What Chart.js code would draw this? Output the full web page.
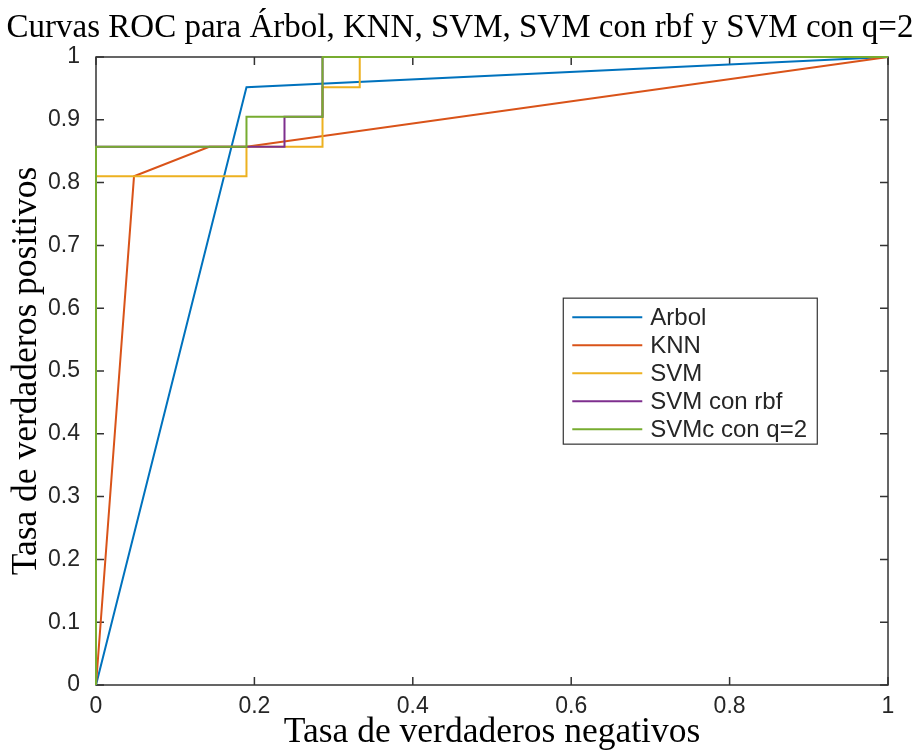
<!DOCTYPE html>
<html>
<head>
<meta charset="utf-8">
<script src="https://cdn.jsdelivr.net/npm/chart.js@4.4.1/dist/chart.umd.min.js"></script>
<style>
html,body{margin:0;padding:0;background:#fff;}
#wrap{width:920px;height:755px;position:relative;}
</style>
</head>
<body>
<div id="wrap"><canvas id="c" width="920" height="755"></canvas></div>
<script>
// ---- data ----
const titleText = "Curvas ROC para Árbol, KNN, SVM, SVM con rbf y SVM con q=2";
const xTitle = "Tasa de verdaderos negativos";
const yTitle = "Tasa de verdaderos positivos";
const seriesNames = ["Arbol", "KNN", "SVM", "SVM con rbf", "SVMc con q=2"];
const xTicks = [0, 0.2, 0.4, 0.6, 0.8, 1];
const yTicks = [0, 0.1, 0.2, 0.3, 0.4, 0.5, 0.6, 0.7, 0.8, 0.9, 1];

const arbolX = [0, 0.19, 1];
const arbolY = [0, 0.952, 1];
const knnX = [0, 0.048, 0.143, 0.19, 1];
const knnY = [0, 0.81, 0.857, 0.857, 1];
const svmX = [0, 0, 0.19, 0.19, 0.286, 0.286, 0.333, 0.333, 1];
const svmY = [0, 0.81, 0.81, 0.857, 0.857, 0.952, 0.952, 1, 1];
const rbfX = [0, 0, 0.19, 0.238, 0.238, 0.286, 0.286, 1];
const rbfY = [0, 0.857, 0.857, 0.857, 0.905, 0.905, 1, 1];
const svmcX = [0, 0, 0.19, 0.19, 0.286, 0.286, 1];
const svmcY = [0, 0.857, 0.857, 0.905, 0.905, 1, 1];

const colors = ["#0072BD", "#D95319", "#EDB120", "#7E2F8E", "#77AC30"];
const allX = [arbolX, knnX, svmX, rbfX, svmcX];
const allY = [arbolY, knnY, svmY, rbfY, svmcY];

const datasets = seriesNames.map((name, i) => ({
  label: name,
  data: allX[i].map((x, j) => ({x: x, y: allY[i][j]})),
  borderColor: colors[i],
  backgroundColor: colors[i],
  borderWidth: 2,
  pointRadius: 0,
  showLine: true,
  fill: false,
  tension: 0,
  clip: 6,
  order: seriesNames.length - 1 - i
}));

const axisColor = "#333333";
const tickFont = {family: "'Liberation Sans', Arial, sans-serif", size: 23};
const serif = "'Liberation Serif', 'Times New Roman', serif";

const framePlugin = {
  id: 'frame',
  beforeDatasetsDraw(chart) {
    const {ctx, chartArea: a, scales} = chart;
    ctx.save();
    ctx.strokeStyle = axisColor;
    ctx.lineWidth = 1.5;
    ctx.strokeRect(a.left, a.top, a.right - a.left, a.bottom - a.top);
    const tl = 8;
    ctx.beginPath();
    xTicks.forEach(v => {
      const px = scales.x.getPixelForValue(v);
      ctx.moveTo(px, a.bottom); ctx.lineTo(px, a.bottom - tl);
      ctx.moveTo(px, a.top); ctx.lineTo(px, a.top + tl);
    });
    yTicks.forEach(v => {
      const py = scales.y.getPixelForValue(v);
      ctx.moveTo(a.left, py); ctx.lineTo(a.left + tl, py);
      ctx.moveTo(a.right, py); ctx.lineTo(a.right - tl, py);
    });
    ctx.stroke();
    ctx.restore();
  }
};

const legendPlugin = {
  id: 'innerLegend',
  afterDatasetsDraw(chart) {
    const {ctx, chartArea: a} = chart;
    const w = a.right - a.left, h = a.bottom - a.top;
    const bx = a.left + 0.59 * w, by = a.top + 0.384 * h;
    const bw = 254, bh = 146;
    ctx.save();
    ctx.fillStyle = "#ffffff";
    ctx.fillRect(bx, by, bw, bh);
    ctx.strokeStyle = axisColor;
    ctx.lineWidth = 1.2;
    ctx.strokeRect(bx, by, bw, bh);
    ctx.font = "24px 'Liberation Sans', Arial, sans-serif";
    ctx.textBaseline = "middle";
    ctx.textAlign = "left";
    seriesNames.forEach((name, i) => {
      const y = by + 19 + i * 28;
      ctx.strokeStyle = colors[i];
      ctx.lineWidth = 2;
      ctx.beginPath();
      ctx.moveTo(bx + 9, y); ctx.lineTo(bx + 79, y);
      ctx.stroke();
      ctx.fillStyle = "#262626";
      ctx.fillText(name, bx + 87, y + 1);
    });
    ctx.restore();
  }
};

new Chart(document.getElementById('c'), {
  type: 'scatter',
  data: {datasets: datasets},
  options: {
    responsive: false,
    animation: false,
    devicePixelRatio: 1,
    layout: {padding: 0},
    plugins: {
      legend: {display: false},
      tooltip: {enabled: false},
      title: {
        display: true,
        text: titleText,
        color: "#000",
        font: {family: serif, size: 33, weight: 'normal'},
        padding: {top: 9, bottom: 8.4}
      }
    },
    scales: {
      x: {
        type: 'linear', min: 0, max: 1,
        afterFit(s) { s.height = 70; },
        afterBuildTicks(s) { s.ticks = xTicks.map(v => ({value: v})); },
        grid: {display: true, drawOnChartArea: false, drawTicks: false},
        border: {display: false},
        ticks: {color: "#262626", font: tickFont, padding: 8, maxRotation: 0,
                callback: v => String(v)},
        title: {display: true, text: xTitle, color: "#000",
                font: {family: serif, size: 35.5},
                padding: {top: 0, bottom: 1}}
      },
      y: {
        type: 'linear', min: 0, max: 1,
        afterFit(s) { s.width = 96; },
        afterBuildTicks(s) { s.ticks = yTicks.map(v => ({value: v})); },
        grid: {display: true, drawOnChartArea: false, drawTicks: false},
        border: {display: false},
        ticks: {color: "#262626", font: tickFont, padding: 16,
                callback: v => String(v)},
        title: {display: true, text: yTitle, color: "#000",
                font: {family: serif, size: 35.5},
                padding: {top: 5, bottom: 0}}
      },
      yRight: {
        type: 'linear', position: 'right', min: 0, max: 1,
        afterFit(s) { s.width = 32; },
        grid: {display: false},
        border: {display: false},
        ticks: {display: false}
      }
    }
  },
  plugins: [framePlugin, legendPlugin]
});
</script>
</body>
</html>
